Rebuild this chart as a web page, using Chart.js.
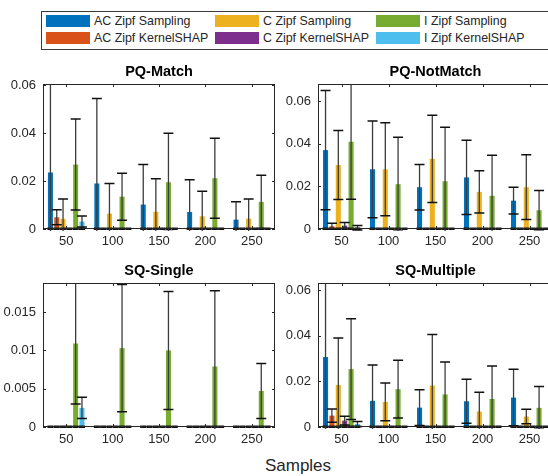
<!DOCTYPE html>
<html>
<head>
<meta charset="utf-8">
<script src="https://cdn.jsdelivr.net/npm/chart.js@4.4.1/dist/chart.umd.min.js"></script>
<style>
  html, body { margin: 0; padding: 0; background: #fff; width: 548px; height: 476px; overflow: hidden; }
  body { position: relative; font-family: "Liberation Sans", Arial, sans-serif; color: #262626; }
  canvas { position: absolute; }
  #legend { position: absolute; left: 41px; top: 11px; width: 530px; height: 37px; border: 1px solid #3a3a3a; background: #fff; }
  .item { position: absolute; font-size: 12.4px; line-height: 14px; white-space: nowrap; }
  .sw { position: absolute; width: 44px; height: 12px; }
  #xlabel { position: absolute; left: 198px; width: 200px; top: 456px; text-align: center; font-size: 17px; line-height: 20px; }
</style>
</head>
<body>
<div id="legend"></div>
<canvas id="c1" width="285" height="200" style="left:0px;top:55px"></canvas>
<canvas id="c2" width="285" height="200" style="left:280px;top:55px"></canvas>
<canvas id="c3" width="285" height="200" style="left:0px;top:254px"></canvas>
<canvas id="c4" width="285" height="200" style="left:280px;top:254px"></canvas>
<div id="xlabel">Samples</div>
<script>
// categories and series
const samples = ['50', '100', '150', '200', '250']
const seriesNames = ['AC Zipf Sampling', 'AC Zipf KernelSHAP', 'C Zipf Sampling', 'C Zipf KernelSHAP', 'I Zipf Sampling', 'I Zipf KernelSHAP']
const seriesColors = ['#0072BD', '#D95319', '#EDB120', '#7E2F8E', '#77AC30', '#4DBEEE']

// rows follow seriesNames order
const pqMatchMean = [
  [0.0236, 0.0190, 0.0102, 0.0071, 0.0039],
  [0.0049, 0, 0, 0, 0],
  [0.0042, 0.0064, 0.0072, 0.0053, 0.0043],
  [0, 0, 0, 0, 0],
  [0.0269, 0.0135, 0.0195, 0.0212, 0.0113],
  [0.0031, 0, 0, 0, 0]
]
const pqMatchStd = [
  [0.0450, 0.0354, 0.0167, 0.0135, 0.0075],
  [0.0031, 0, 0, 0, 0],
  [0.0083, 0.0126, 0.0138, 0.0105, 0.0082],
  [0, 0, 0, 0, 0],
  [0.0190, 0.0098, 0.0205, 0.0167, 0.0111],
  [0.0023, 0, 0, 0, 0]
]
const pqNotMatchMean = [
  [0.0370, 0.0280, 0.0196, 0.0242, 0.0133],
  [0.0013, 0, 0, 0, 0],
  [0.0300, 0.0280, 0.0329, 0.0174, 0.0196],
  [0.0016, 0, 0, 0, 0],
  [0.0409, 0.0210, 0.0224, 0.0156, 0.0088],
  [0.0006, 0, 0, 0, 0]
]
const pqNotMatchStd = [
  [0.0280, 0.0227, 0.0107, 0.0174, 0.0063],
  [0.0014, 0, 0, 0, 0],
  [0.0162, 0.0218, 0.0205, 0.0099, 0.0152],
  [0.0014, 0, 0, 0, 0],
  [0.0270, 0.0220, 0.0253, 0.0190, 0.0092],
  [0.0011, 0, 0, 0, 0]
]
const sqSingleMean = [
  [0, 0, 0, 0, 0],
  [0, 0, 0, 0, 0],
  [0, 0, 0, 0, 0],
  [0, 0, 0, 0, 0],
  [0.0109, 0.0103, 0.0100, 0.0079, 0.0047],
  [0.0025, 0, 0, 0, 0]
]
const sqSingleStd = [
  [0, 0, 0, 0, 0],
  [0, 0, 0, 0, 0],
  [0, 0, 0, 0, 0],
  [0, 0, 0, 0, 0],
  [0.0079, 0.0083, 0.0077, 0.0099, 0.0036],
  [0.0014, 0, 0, 0, 0]
]
const sqMultipleMean = [
  [0.0307, 0.0115, 0.0085, 0.0113, 0.0129],
  [0.0050, 0, 0, 0, 0],
  [0.0185, 0.0110, 0.0182, 0.0068, 0.0046],
  [0.0028, 0, 0, 0, 0],
  [0.0254, 0.0166, 0.0143, 0.0123, 0.0084],
  [0.0013, 0, 0, 0, 0]
]
const sqMultipleStd = [
  [0.0350, 0.0157, 0.0078, 0.0097, 0.0124],
  [0.0029, 0, 0, 0, 0],
  [0.0206, 0.0083, 0.0224, 0.0085, 0.0032],
  [0.0019, 0, 0, 0, 0],
  [0.0221, 0.0127, 0.0142, 0.0145, 0.0094],
  [0.0011, 0, 0, 0, 0]
]

// y tick labels
const ticks02 = [0, 0.02, 0.04, 0.06]
const ticks02Labels = ['0', '0.02', '0.04', '0.06']
const ticks005 = [0, 0.005, 0.01, 0.015]
const ticks005Labels = ['0', '0.005', '0.01', '0.015']

const axisColor = '#262626'
const tickFont = { family: '"Liberation Sans", Arial, sans-serif', size: 13 }

// legend
const legendEl = document.getElementById('legend')
const colX = [4, 173, 334]
const rowY = [3, 20]
seriesNames.forEach((name, i) => {
  const col = Math.floor(i / 2), row = i % 2
  const sw = document.createElement('div')
  sw.className = 'sw'
  sw.style.left = colX[col] + 'px'
  sw.style.top = rowY[row] + 'px'
  sw.style.background = seriesColors[i]
  legendEl.appendChild(sw)
  const t = document.createElement('div')
  t.className = 'item'
  t.style.left = (colX[col] + 48) + 'px'
  t.style.top = (rowY[row] - 1) + 'px'
  t.textContent = name
  legendEl.appendChild(t)
})

// error bars, baseline, box, inward ticks, title
const deco = {
  id: 'deco',
  afterDatasetsDraw(chart, args, opts) {
    const { ctx, chartArea: a, scales: { x, y } } = chart
    ctx.save()
    ctx.beginPath()
    ctx.rect(a.left, a.top, a.right - a.left, a.bottom - a.top + 2)
    ctx.clip()
    chart.data.datasets.forEach((ds, i) => {
      const meta = chart.getDatasetMeta(i)
      meta.data.forEach((bar, j) => {
        ctx.fillStyle = '#111'
        ctx.fillRect(bar.x - bar.width / 2 - 0.5, a.bottom - 1.5, bar.width + 1, 2.5)
        const s = ds.err[j]
        if (!s) return
        const v = ds.data[j]
        const yt = y.getPixelForValue(v + s)
        const yb = y.getPixelForValue(v - s)
        ctx.strokeStyle = '#3c3c3c'
        ctx.lineWidth = 1.3
        ctx.beginPath()
        ctx.moveTo(bar.x, yt)
        ctx.lineTo(bar.x, yb)
        ctx.stroke()
        ctx.strokeStyle = '#111'
        ctx.lineWidth = 1.5
        ctx.beginPath()
        ctx.moveTo(bar.x - 5, yt); ctx.lineTo(bar.x + 5, yt)
        ctx.moveTo(bar.x - 5, yb); ctx.lineTo(bar.x + 5, yb)
        ctx.stroke()
      })
    })
    ctx.restore()

    ctx.save()
    ctx.strokeStyle = axisColor
    ctx.lineWidth = 1
    ctx.strokeRect(a.left + 0.5, a.top + 0.5, a.right - a.left - 1, a.bottom - a.top - 1)
    ctx.beginPath()
    y.ticks.forEach(t => {
      const py = Math.round(y.getPixelForValue(t.value)) + 0.5
      ctx.moveTo(a.left, py); ctx.lineTo(a.left + 3, py)
      ctx.moveTo(a.right, py); ctx.lineTo(a.right - 3, py)
    })
    x.ticks.forEach((t, i) => {
      const px = Math.round(x.getPixelForTick(i)) + 0.5
      ctx.moveTo(px, a.bottom); ctx.lineTo(px, a.bottom - 3)
      ctx.moveTo(px, a.top); ctx.lineTo(px, a.top + 3)
    })
    ctx.stroke()
    ctx.fillStyle = '#000'
    ctx.font = 'bold 14.5px "Liberation Sans", Arial, sans-serif'
    ctx.textAlign = 'center'
    ctx.textBaseline = 'middle'
    ctx.fillText(opts.title, (a.left + a.right) / 2, a.top - 12)
    ctx.restore()
  }
}

function makePanel(id, title, means, stds, yMax, yTicks, yLabels, leftW, rightPad, bottomH) {
  const datasets = seriesNames.map((name, i) => ({
    label: name,
    data: means[i],
    err: stds[i],
    backgroundColor: seriesColors[i],
    borderWidth: 0,
    categoryPercentage: 0.815,
    barPercentage: 0.8
  }))
  return new Chart(document.getElementById(id).getContext('2d'), {
    type: 'bar',
    data: { labels: samples, datasets },
    options: {
      responsive: false,
      animation: false,
      layout: { padding: { top: 29, right: rightPad, left: 0, bottom: 0 } },
      plugins: {
        legend: { display: false },
        tooltip: { enabled: false },
        deco: { title }
      },
      scales: {
        x: {
          grid: { display: false, drawTicks: false, tickLength: 0 },
          border: { display: false },
          ticks: { padding: 5, font: tickFont, color: axisColor, maxRotation: 0, autoSkip: false },
          afterFit(s) { s.height = bottomH }
        },
        y: {
          min: 0,
          max: yMax,
          grid: { display: false, drawTicks: false, tickLength: 0 },
          border: { display: false },
          afterBuildTicks(s) { s.ticks = yTicks.map(v => ({ value: v })) },
          ticks: { padding: 7, font: tickFont, color: axisColor, callback: (v, i) => yLabels[i] },
          afterFit(s) { s.width = leftW }
        }
      }
    },
    plugins: [deco]
  })
}

makePanel('c1', 'PQ-Match', pqMatchMean, pqMatchStd, 0.0605, ticks02, ticks02Labels, 43, 10, 26)
makePanel('c2', 'PQ-NotMatch', pqNotMatchMean, pqNotMatchStd, 0.068, ticks02, ticks02Labels, 38, 12, 26)
makePanel('c3', 'SQ-Single', sqSingleMean, sqSingleStd, 0.0188, ticks005, ticks005Labels, 43, 10, 27)
makePanel('c4', 'SQ-Multiple', sqMultipleMean, sqMultipleStd, 0.0632, ticks02, ticks02Labels, 38, 12, 27)
</script>
</body>
</html>
